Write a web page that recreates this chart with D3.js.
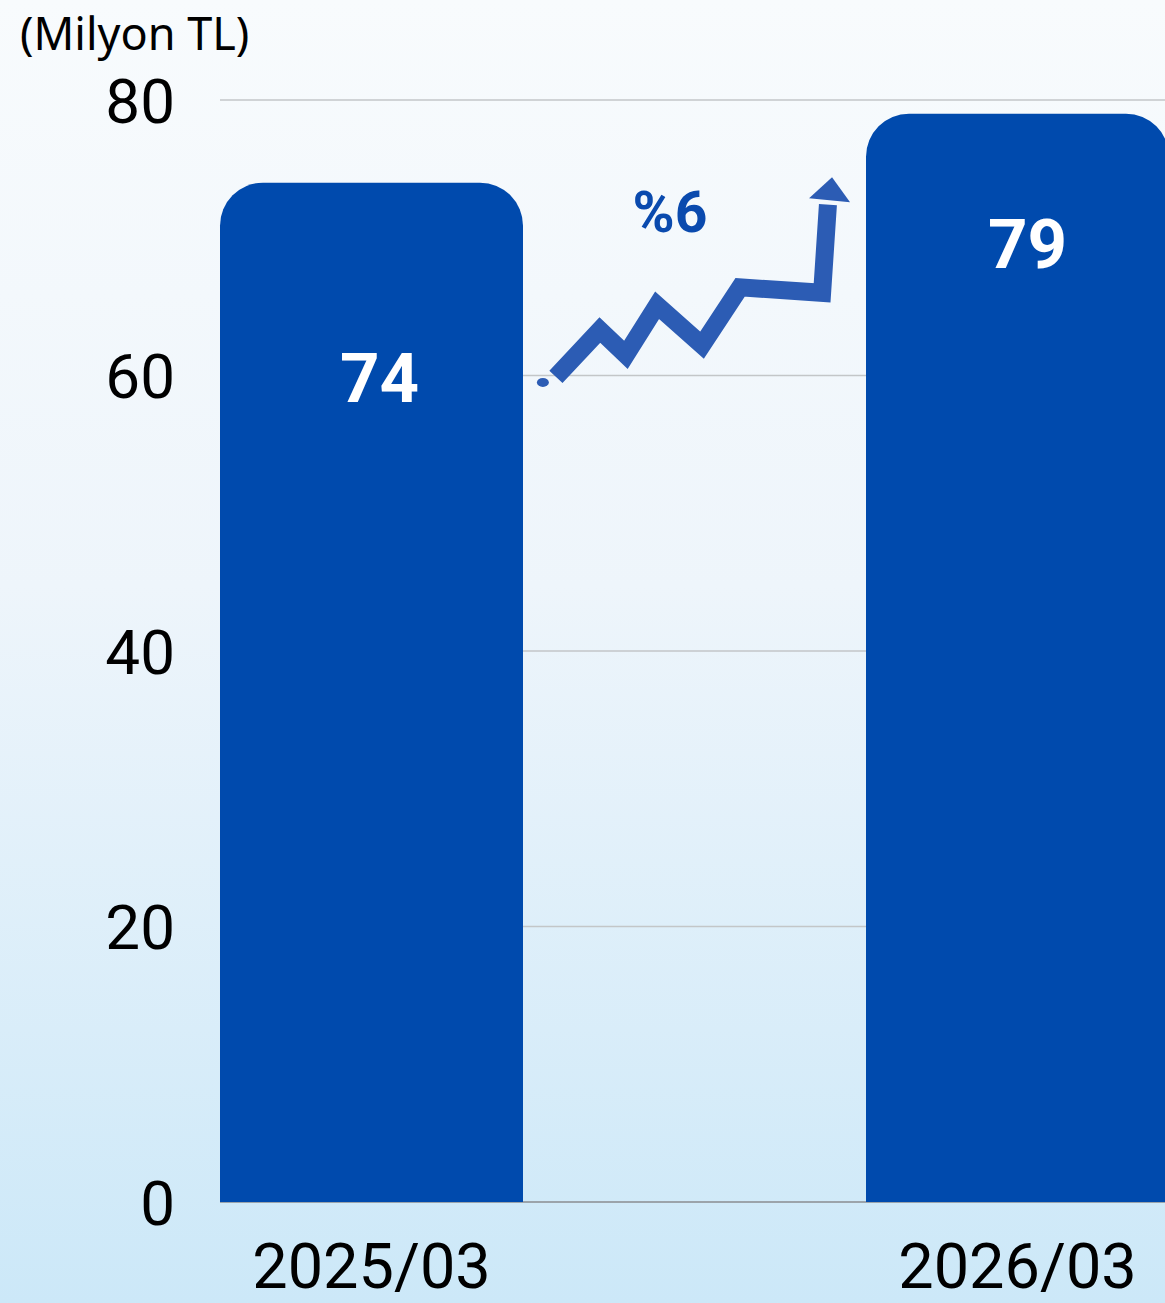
<!DOCTYPE html>
<html>
<head>
<meta charset="utf-8">
<script src="https://cdn.jsdelivr.net/npm/d3@7"></script>
<style>
  body { margin: 0; overflow: hidden; }
  svg { display: block; }
</style>
</head>
<body>
<svg id="chart" width="1165" height="1303"></svg>
<script>
const categories = ['2025/03', '2026/03'];
const values = [74, 79];
const labelValues = [58.1, 67.8]; // where the value labels sit (baseline, in axis units)
const yTicks = [0, 20, 40, 60, 80];
const growthLabel = '%6';
const unitLabel = '(Milyon TL)';
// decorative trend arrow: [fraction across the gap between bars, value]
const arrowPoints = [[0.096, 59.9], [0.224, 63.3], [0.300, 61.5], [0.391, 65.1],
  [0.522, 62.2], [0.633, 66.4], [0.872, 66.0], [0.889, 72.4]];
const arrowTip = [0.901, 74.4];
const arrowDot = [0.058, 59.5];

const width = 1165, height = 1303;
const svg = d3.select('#chart');

const defs = svg.append('defs');
const grad = defs.append('linearGradient').attr('id', 'bg')
  .attr('x1', 0).attr('y1', 0).attr('x2', 0).attr('y2', 1);
grad.append('stop').attr('offset', '0%').attr('stop-color', '#f8fbfd');
grad.append('stop').attr('offset', '45%').attr('stop-color', '#eef5fb');
grad.append('stop').attr('offset', '100%').attr('stop-color', '#cce8f8');
svg.append('rect').attr('width', width).attr('height', height).attr('fill', 'url(#bg)');

const barW = 303;
const xPos = d => d === categories[0] ? 220 : 866;
const y = d3.scaleLinear().domain([0, 80]).range([1202, 100]);

// gridlines
svg.append('g')
  .selectAll('line')
  .data(yTicks.filter(t => t > 0))
  .join('line')
  .attr('x1', 220).attr('x2', width)
  .attr('y1', d => y(d)).attr('y2', d => y(d))
  .attr('stroke', '#c3c6c8').attr('stroke-width', 1.5);

svg.append('line')
  .attr('x1', 220).attr('x2', width)
  .attr('y1', y(0)).attr('y2', y(0))
  .attr('stroke', '#8a8d90').attr('stroke-width', 1.5);

// y axis
const yAxis = d3.axisLeft(y).tickValues(yTicks).tickSize(0).tickPadding(0);
const ya = svg.append('g').attr('transform', 'translate(175,0)').call(yAxis);
ya.select('.domain').remove();
ya.selectAll('text')
  .attr('font-family', 'Roboto, sans-serif')
  .attr('font-size', 62)
  .attr('fill', '#000')
  .attr('dy', '0.36em');

// bars with rounded top corners
const r = 43;
function barPath(x0, y0, w, y1) {
  return `M${x0},${y1}V${y0 + r}A${r},${r} 0 0 1 ${x0 + r},${y0}H${x0 + w - r}A${r},${r} 0 0 1 ${x0 + w},${y0 + r}V${y1}Z`;
}
const barData = categories.map((c, i) => ({ c, v: values[i], l: labelValues[i] }));
svg.append('g')
  .selectAll('path')
  .data(barData)
  .join('path')
  .attr('d', d => barPath(xPos(d.c), y(d.v), barW, y(0)))
  .attr('fill', '#004aad');

// value labels
svg.append('g')
  .selectAll('text')
  .data(barData)
  .join('text')
  .attr('x', (d, i) => xPos(d.c) + barW / 2 + (i === 0 ? 8 : 10))
  .attr('y', d => y(d.l))
  .attr('text-anchor', 'middle')
  .attr('font-family', 'Roboto, sans-serif')
  .attr('font-weight', 'bold')
  .attr('font-size', 69)
  .attr('fill', '#fff')
  .text(d => d.v);

// x labels
svg.append('g')
  .selectAll('text')
  .data(categories)
  .join('text')
  .attr('x', d => xPos(d) + barW / 2)
  .attr('y', 1288)
  .attr('text-anchor', 'middle')
  .attr('font-family', 'Roboto, sans-serif')
  .attr('font-size', 63)
  .attr('fill', '#000')
  .text(d => d);

// unit label
svg.append('text')
  .attr('x', 20).attr('y', 50)
  .attr('font-family', '"Noto Sans", sans-serif')
  .attr('font-size', 45)
  .attr('fill', '#000')
  .text(unitLabel);

// growth arrow
const gapX = d3.scaleLinear().domain([0, 1]).range([220 + barW, 866]);
const line = d3.line().x(d => gapX(d[0])).y(d => y(d[1]));
svg.append('path')
  .attr('d', line(arrowPoints))
  .attr('fill', 'none')
  .attr('stroke', '#2c5cb4')
  .attr('stroke-width', 18)
  .attr('stroke-linejoin', 'miter');
const tx = gapX(arrowTip[0]), ty = y(arrowTip[1]);
svg.append('path')
  .attr('d', `M${tx},${ty}L${tx + 18},${ty + 25}L${tx - 23},${ty + 21}Z`)
  .attr('fill', '#2c5cb4');
svg.append('ellipse')
  .attr('cx', gapX(arrowDot[0])).attr('cy', y(arrowDot[1]))
  .attr('rx', 6).attr('ry', 4.5)
  .attr('fill', '#2c5cb4');

svg.append('text')
  .attr('x', 670).attr('y', 232)
  .attr('text-anchor', 'middle')
  .attr('font-family', 'Roboto, sans-serif')
  .attr('font-weight', 'bold')
  .attr('font-size', 57)
  .attr('fill', '#0a4aae')
  .text(growthLabel);
</script>
</body>
</html>
